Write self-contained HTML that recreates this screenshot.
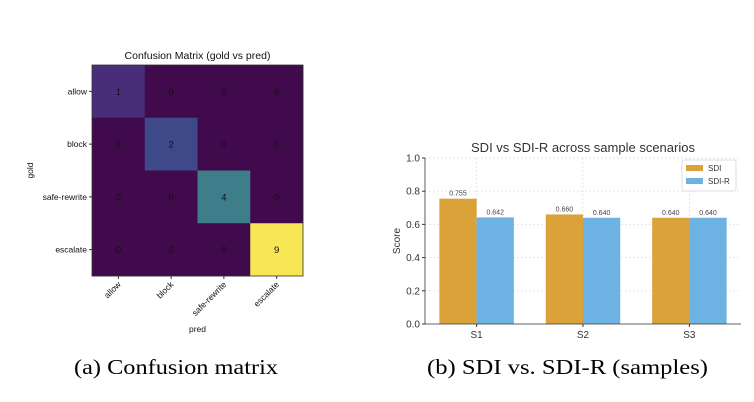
<!DOCTYPE html>
<html><head><meta charset="utf-8"><style>
body{margin:0;background:#fff;width:754px;height:402px;overflow:hidden}
svg{display:block}
.s{font-family:"Liberation Sans","DejaVu Sans",sans-serif}
.cap{font-family:"Liberation Serif",serif;font-size:21px;fill:#000}
</style></head><body>
<svg id="root" width="754" height="402">
<g id="cm" class="s"></g>
<g id="bar" class="s"></g>
<text class="cap" x="74" y="374" textLength="204" lengthAdjust="spacingAndGlyphs">(a) Confusion matrix</text>
<text class="cap" x="427" y="374" textLength="281" lengthAdjust="spacingAndGlyphs">(b) SDI vs. SDI-R (samples)</text>
</svg>
<script>
const labels=["allow","block","safe-rewrite","escalate"];
const matrix=[[1,0,0,0],[0,2,0,0],[0,0,4,0],[0,0,0,9]];
const scenarios=["S1","S2","S3"];
const sdi=[0.755,0.660,0.640];
const sdiR=[0.642,0.640,0.640];
const yTicks=[0,0.2,0.4,0.6,0.8,1.0];
const NS="http://www.w3.org/2000/svg";
function mk(p,t,a,txt){const e=document.createElementNS(NS,t);for(const k in a)e.setAttribute(k,a[k]);if(txt!==undefined)e.textContent=txt;p.appendChild(e);return e;}
function viridis(t){const s=[[64,10,76],[72,45,120],[62,73,137],[60,100,140],[62,125,138],[55,150,135],[70,175,121],[120,200,90],[185,220,60],[248,230,84]];const x=t*(s.length-1),i=Math.min(Math.floor(x),s.length-2),f=x-i;const c=s[i].map((v,k)=>Math.round(v+(s[i+1][k]-v)*f));return`rgb(${c})`;}
// confusion matrix
const cm=document.getElementById('cm');
const L=92,T=65,W=211,n=labels.length,cs=W/n;
const mx=Math.max(...matrix.flat());
const cx=i=>L+cs*(i+0.5), cy=i=>T+cs*(i+0.5);
let e=mk(cm,'text',{x:L+W/2,y:59,'text-anchor':'middle','font-size':10.5,fill:'#111'},'Confusion Matrix (gold vs pred)');

matrix.forEach((row,r)=>row.forEach((v,c)=>{
 let rc=mk(cm,'rect',{x:L+c*cs,y:T+r*cs,width:cs+0.3,height:cs+0.3,fill:viridis(v/mx)});
 
 let t=mk(cm,'text',{x:cx(c),y:cy(r)+3.5,'text-anchor':'middle','font-size':9.5,fill:'#111'},v);
 
}));
mk(cm,'rect',{x:L,y:T,width:W,height:W,fill:'none',stroke:'#333','stroke-width':0.8});
labels.forEach((lb,i)=>{
 mk(cm,'line',{x1:L-3,x2:L,y1:cy(i),y2:cy(i),stroke:'#333'});
 let t=mk(cm,'text',{x:L-5,y:cy(i)+3,'text-anchor':'end','font-size':8.5,fill:'#111'},lb);
 
 mk(cm,'line',{x1:cx(i),x2:cx(i),y1:T+W,y2:T+W+3,stroke:'#333'});
 let u=mk(cm,'text',{x:cx(i)+3,y:T+W+9,'text-anchor':'end','font-size':8.5,fill:'#111',transform:`rotate(-45 ${cx(i)+3} ${T+W+9})`},lb);
 
});
e=mk(cm,'text',{x:L+W/2,y:332,'text-anchor':'middle','font-size':8.5,fill:'#111'},'pred');

e=mk(cm,'text',{x:33,y:T+W/2,'text-anchor':'middle','font-size':8.5,fill:'#111',transform:`rotate(-90 33 ${T+W/2})`},'gold');

// bar chart
const bg=document.getElementById('bar');
const BL=425,BR=741,B0=324,B1=158;
const sp=(BR-BL)/2.97, x=i=>BL+sp*(i+0.485), y=v=>B0+(B1-B0)*v, bw=sp*0.35;
yTicks.forEach(v=>{
 mk(bg,'line',{x1:BL,x2:BR,y1:y(v),y2:y(v),stroke:'#ddd','stroke-dasharray':'2,2','stroke-width':0.7});
 mk(bg,'line',{x1:BL-3,x2:BL,y1:y(v),y2:y(v),stroke:'#333'});
 let t=mk(bg,'text',{x:BL-5,y:y(v)+3.5,'text-anchor':'end','font-size':10,fill:'#333'},v.toFixed(1));
 
});
scenarios.forEach((s,i)=>{
 mk(bg,'line',{x1:x(i),x2:x(i),y1:B1,y2:B0,stroke:'#ddd','stroke-dasharray':'2,2','stroke-width':0.7});
});
scenarios.forEach((s,i)=>{
 let a=mk(bg,'rect',{x:x(i)-bw,y:y(sdi[i]),width:bw,height:B0-y(sdi[i]),fill:'#dba23a'});
 
 let b=mk(bg,'rect',{x:x(i),y:y(sdiR[i]),width:bw,height:B0-y(sdiR[i]),fill:'#6cb2e3'});
 
 let t1=mk(bg,'text',{x:x(i)-bw/2,y:y(sdi[i])-3,'text-anchor':'middle','font-size':7,fill:'#444'},sdi[i].toFixed(3));
 
 let t2=mk(bg,'text',{x:x(i)+bw/2,y:y(sdiR[i])-3,'text-anchor':'middle','font-size':7,fill:'#444'},sdiR[i].toFixed(3));
 
 mk(bg,'line',{x1:x(i),x2:x(i),y1:B0,y2:B0+3,stroke:'#333'});
 let t=mk(bg,'text',{x:x(i),y:B0+14,'text-anchor':'middle','font-size':10,fill:'#333'},s);
 
});
mk(bg,'line',{x1:BL,x2:BL,y1:B1,y2:B0,stroke:'#333','stroke-width':0.8});
mk(bg,'line',{x1:BL,x2:BR,y1:B0,y2:B0,stroke:'#333','stroke-width':0.8});
e=mk(bg,'text',{x:(BL+BR)/2,y:152,'text-anchor':'middle','font-size':13,fill:'#333'},'SDI vs SDI-R across sample scenarios');

e=mk(bg,'text',{x:400,y:(B0+B1)/2,'text-anchor':'middle','font-size':10,fill:'#333',transform:`rotate(-90 400 ${(B0+B1)/2})`},'Score');

const lg=mk(bg,'g',{});

mk(lg,'rect',{x:682,y:160,width:54,height:31,fill:'#fff',stroke:'#ddd',rx:2});
mk(lg,'rect',{x:686,y:165,width:17,height:6,fill:'#dba23a'});
mk(lg,'text',{x:708,y:171,'font-size':8,fill:'#333'},'SDI');
mk(lg,'rect',{x:686,y:178,width:17,height:6,fill:'#6cb2e3'});
mk(lg,'text',{x:708,y:184,'font-size':8,fill:'#333'},'SDI-R');
</script>
</body></html>
